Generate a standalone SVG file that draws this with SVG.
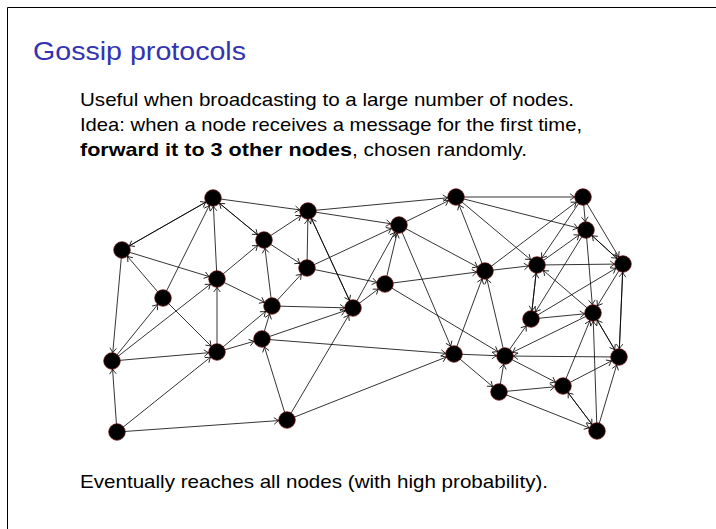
<svg xmlns="http://www.w3.org/2000/svg" width="716" height="529" viewBox="0 0 716 529">
<style>
.e{stroke:#000;stroke-width:0.8;fill:none;marker-end:url(#ar)}
.n{fill:#000;stroke:#6a0a0a;stroke-width:0.7}
.t{font-family:"Liberation Sans","DejaVu Sans",sans-serif;font-size:19px;fill:#000}
</style>
<defs>
<marker id="ar" markerUnits="userSpaceOnUse" orient="auto" refX="0" refY="0" markerWidth="1" markerHeight="1" style="overflow:visible">
<path d="M-13,-3.3 Q-9.6,-0.7 -8.3,0 Q-9.6,0.7 -13,3.3" fill="none" stroke="#000" stroke-width="0.8"/>
</marker>
</defs>
<rect width="716" height="529" fill="#fff"/>
<path d="M7.5,529 V7.5 H716" fill="none" stroke="#000" stroke-width="1"/>
<text x="33" y="60" font-family="'Liberation Sans','DejaVu Sans',sans-serif" font-size="26" fill="#3333b3" textLength="213" lengthAdjust="spacingAndGlyphs">Gossip protocols</text>
<text class="t" x="80" y="106" textLength="494" lengthAdjust="spacingAndGlyphs">Useful when broadcasting to a large number of nodes.</text>
<text class="t" x="80" y="131" textLength="502" lengthAdjust="spacingAndGlyphs">Idea: when a node receives a message for the first time,</text>
<text class="t" x="80" y="156" font-weight="bold" textLength="272" lengthAdjust="spacingAndGlyphs">forward it to 3 other nodes</text>
<text class="t" x="352" y="156" textLength="175" lengthAdjust="spacingAndGlyphs">, chosen randomly.</text>
<text class="t" x="80" y="488" textLength="468" lengthAdjust="spacingAndGlyphs">Eventually reaches all nodes (with high probability).</text>
<g id="edges">
<line class="e" x1="213" y1="198" x2="122" y2="250"/>
<line class="e" x1="122" y1="250" x2="213" y2="198"/>
<line class="e" x1="213" y1="198" x2="264" y2="240"/>
<line class="e" x1="264" y1="240" x2="213" y2="198"/>
<line class="e" x1="213" y1="198" x2="308" y2="211"/>
<line class="e" x1="122" y1="250" x2="112" y2="361"/>
<line class="e" x1="122" y1="250" x2="217" y2="279"/>
<line class="e" x1="264" y1="240" x2="308" y2="211"/>
<line class="e" x1="264" y1="240" x2="307" y2="268"/>
<line class="e" x1="308" y1="211" x2="456" y2="197"/>
<line class="e" x1="308" y1="211" x2="399" y2="225"/>
<line class="e" x1="308" y1="211" x2="353" y2="308"/>
<line class="e" x1="353" y1="308" x2="308" y2="211"/>
<line class="e" x1="163" y1="298" x2="213" y2="198"/>
<line class="e" x1="163" y1="298" x2="217" y2="352"/>
<line class="e" x1="163" y1="298" x2="122" y2="250"/>
<line class="e" x1="217" y1="279" x2="213" y2="198"/>
<line class="e" x1="217" y1="279" x2="264" y2="240"/>
<line class="e" x1="217" y1="279" x2="272" y2="306"/>
<line class="e" x1="307" y1="268" x2="308" y2="211"/>
<line class="e" x1="307" y1="268" x2="399" y2="225"/>
<line class="e" x1="307" y1="268" x2="385" y2="284"/>
<line class="e" x1="399" y1="225" x2="456" y2="197"/>
<line class="e" x1="399" y1="225" x2="485" y2="271"/>
<line class="e" x1="399" y1="225" x2="454" y2="354"/>
<line class="e" x1="456" y1="197" x2="583" y2="197"/>
<line class="e" x1="456" y1="197" x2="586" y2="230"/>
<line class="e" x1="456" y1="197" x2="537" y2="265"/>
<line class="e" x1="583" y1="197" x2="586" y2="230"/>
<line class="e" x1="583" y1="197" x2="537" y2="265"/>
<line class="e" x1="583" y1="197" x2="623" y2="264"/>
<line class="e" x1="586" y1="230" x2="623" y2="264"/>
<line class="e" x1="623" y1="264" x2="586" y2="230"/>
<line class="e" x1="586" y1="230" x2="593" y2="313"/>
<line class="e" x1="586" y1="230" x2="531" y2="319"/>
<line class="e" x1="485" y1="271" x2="456" y2="197"/>
<line class="e" x1="485" y1="271" x2="583" y2="197"/>
<line class="e" x1="485" y1="271" x2="537" y2="265"/>
<line class="e" x1="537" y1="265" x2="623" y2="264"/>
<line class="e" x1="537" y1="265" x2="531" y2="319"/>
<line class="e" x1="531" y1="319" x2="537" y2="265"/>
<line class="e" x1="537" y1="265" x2="586" y2="230"/>
<line class="e" x1="623" y1="264" x2="619" y2="357"/>
<line class="e" x1="619" y1="357" x2="623" y2="264"/>
<line class="e" x1="623" y1="264" x2="593" y2="313"/>
<line class="e" x1="385" y1="284" x2="399" y2="225"/>
<line class="e" x1="385" y1="284" x2="485" y2="271"/>
<line class="e" x1="385" y1="284" x2="505" y2="356"/>
<line class="e" x1="272" y1="306" x2="264" y2="240"/>
<line class="e" x1="272" y1="306" x2="307" y2="268"/>
<line class="e" x1="272" y1="306" x2="353" y2="308"/>
<line class="e" x1="353" y1="308" x2="385" y2="284"/>
<line class="e" x1="353" y1="308" x2="399" y2="225"/>
<line class="e" x1="531" y1="319" x2="593" y2="313"/>
<line class="e" x1="531" y1="319" x2="623" y2="264"/>
<line class="e" x1="593" y1="313" x2="537" y2="265"/>
<line class="e" x1="593" y1="313" x2="505" y2="356"/>
<line class="e" x1="593" y1="313" x2="619" y2="357"/>
<line class="e" x1="619" y1="357" x2="593" y2="313"/>
<line class="e" x1="262" y1="339" x2="272" y2="306"/>
<line class="e" x1="262" y1="339" x2="454" y2="354"/>
<line class="e" x1="262" y1="339" x2="353" y2="308"/>
<line class="e" x1="112" y1="361" x2="163" y2="298"/>
<line class="e" x1="112" y1="361" x2="217" y2="279"/>
<line class="e" x1="112" y1="361" x2="217" y2="352"/>
<line class="e" x1="217" y1="352" x2="262" y2="339"/>
<line class="e" x1="217" y1="352" x2="272" y2="306"/>
<line class="e" x1="217" y1="352" x2="217" y2="279"/>
<line class="e" x1="454" y1="354" x2="505" y2="356"/>
<line class="e" x1="454" y1="354" x2="499" y2="392"/>
<line class="e" x1="454" y1="354" x2="485" y2="271"/>
<line class="e" x1="505" y1="356" x2="531" y2="319"/>
<line class="e" x1="505" y1="356" x2="485" y2="271"/>
<line class="e" x1="505" y1="356" x2="563" y2="386"/>
<line class="e" x1="619" y1="357" x2="505" y2="356"/>
<line class="e" x1="563" y1="386" x2="593" y2="313"/>
<line class="e" x1="563" y1="386" x2="619" y2="357"/>
<line class="e" x1="563" y1="386" x2="597" y2="431"/>
<line class="e" x1="597" y1="431" x2="563" y2="386"/>
<line class="e" x1="499" y1="392" x2="505" y2="356"/>
<line class="e" x1="499" y1="392" x2="563" y2="386"/>
<line class="e" x1="499" y1="392" x2="597" y2="431"/>
<line class="e" x1="117" y1="432" x2="112" y2="361"/>
<line class="e" x1="117" y1="432" x2="217" y2="352"/>
<line class="e" x1="117" y1="432" x2="287" y2="420"/>
<line class="e" x1="287" y1="420" x2="262" y2="339"/>
<line class="e" x1="287" y1="420" x2="353" y2="308"/>
<line class="e" x1="287" y1="420" x2="454" y2="354"/>
<line class="e" x1="597" y1="431" x2="593" y2="313"/>
<line class="e" x1="597" y1="431" x2="619" y2="357"/>
</g>
<g id="node-A"><circle class="n" cx="213" cy="198" r="8.3"/></g>
<g id="node-B"><circle class="n" cx="122" cy="250" r="8.3"/></g>
<g id="node-C"><circle class="n" cx="264" cy="240" r="8.3"/></g>
<g id="node-D"><circle class="n" cx="308" cy="211" r="8.3"/></g>
<g id="node-E"><circle class="n" cx="163" cy="298" r="8.3"/></g>
<g id="node-F"><circle class="n" cx="217" cy="279" r="8.3"/></g>
<g id="node-G"><circle class="n" cx="307" cy="268" r="8.3"/></g>
<g id="node-H"><circle class="n" cx="399" cy="225" r="8.3"/></g>
<g id="node-I"><circle class="n" cx="456" cy="197" r="8.3"/></g>
<g id="node-J"><circle class="n" cx="583" cy="197" r="8.3"/></g>
<g id="node-K"><circle class="n" cx="586" cy="230" r="8.3"/></g>
<g id="node-L"><circle class="n" cx="485" cy="271" r="8.3"/></g>
<g id="node-M"><circle class="n" cx="537" cy="265" r="8.3"/></g>
<g id="node-N"><circle class="n" cx="623" cy="264" r="8.3"/></g>
<g id="node-O"><circle class="n" cx="385" cy="284" r="8.3"/></g>
<g id="node-P"><circle class="n" cx="272" cy="306" r="8.3"/></g>
<g id="node-Q"><circle class="n" cx="353" cy="308" r="8.3"/></g>
<g id="node-R"><circle class="n" cx="531" cy="319" r="8.3"/></g>
<g id="node-S"><circle class="n" cx="593" cy="313" r="8.3"/></g>
<g id="node-T"><circle class="n" cx="262" cy="339" r="8.3"/></g>
<g id="node-U"><circle class="n" cx="112" cy="361" r="8.3"/></g>
<g id="node-V"><circle class="n" cx="217" cy="352" r="8.3"/></g>
<g id="node-W"><circle class="n" cx="454" cy="354" r="8.3"/></g>
<g id="node-X"><circle class="n" cx="505" cy="356" r="8.3"/></g>
<g id="node-Y"><circle class="n" cx="619" cy="357" r="8.3"/></g>
<g id="node-Z"><circle class="n" cx="563" cy="386" r="8.3"/></g>
<g id="node-AA"><circle class="n" cx="499" cy="392" r="8.3"/></g>
<g id="node-BB"><circle class="n" cx="117" cy="432" r="8.3"/></g>
<g id="node-CC"><circle class="n" cx="287" cy="420" r="8.3"/></g>
<g id="node-DD"><circle class="n" cx="597" cy="431" r="8.3"/></g>
</svg>
